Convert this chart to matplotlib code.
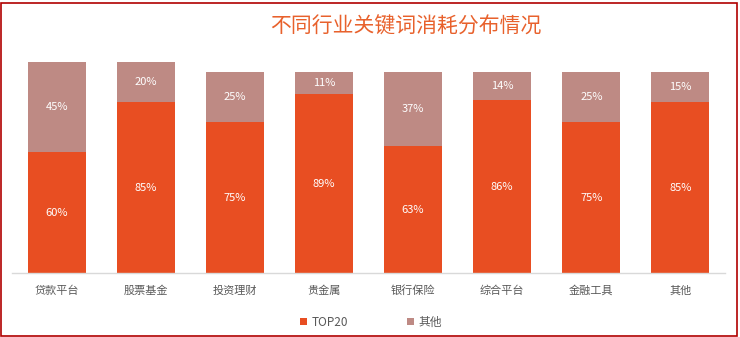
import matplotlib
matplotlib.use("Agg")
import matplotlib.pyplot as plt
from matplotlib.patches import Rectangle
import numpy as np

plt.rcParams['font.family'] = ['Noto Sans CJK SC', 'DejaVu Sans']

# 各行业关键词消耗占比 (%)
categories = ["贷款平台", "股票基金", "投资理财", "贵金属", "银行保险", "综合平台", "金融工具", "其他"]
top20 = [60, 85, 75, 89, 63, 86, 75, 85]
others = [45, 20, 25, 11, 37, 14, 25, 15]
series_names = ["TOP20", "其他"]

c_top = "#E84E22"
c_other = "#BE8A84"

fig = plt.figure(figsize=(7.40, 3.37), dpi=100)
ax = fig.add_axes([12 / 740, 64 / 337, 713 / 740, 211 / 337])

x = np.arange(len(categories))
w = 0.65
b1 = ax.bar(x, top20, w, color=c_top, label=series_names[0])
b2 = ax.bar(x, others, w, bottom=top20, color=c_other, label=series_names[1])

for i in range(len(categories)):
    ax.text(x[i], top20[i] / 2, f"{top20[i]}%", ha="center", va="center",
            color="white", fontsize=8)
    ax.text(x[i], top20[i] + others[i] / 2, f"{others[i]}%", ha="center",
            va="center", color="white", fontsize=8)

ax.set_xlim(-0.5, len(categories) - 0.5)
ax.set_ylim(0, 105)
ax.set_xticks(x)
ax.set_xticklabels(categories, fontsize=8, color="#595959")
ax.tick_params(axis="x", length=0, pad=9)
ax.set_yticks([])
for side in ["top", "left", "right"]:
    ax.spines[side].set_visible(False)
ax.spines["bottom"].set_color("#D9D9D9")
ax.spines["bottom"].set_linewidth(1)

fig.text(406 / 740, 1 - 27 / 337, "不同行业关键词消耗分布情况", ha="center",
         va="center", fontsize=15, color="#E8612C")

fig.legend(handles=[b1, b2], labels=series_names, loc="center",
           bbox_to_anchor=(371 / 740, 1 - 322 / 337), ncol=2, frameon=False,
           fontsize=8.5, handlelength=0.6, handleheight=0.6, handletextpad=0.4,
           columnspacing=5.0, labelcolor="#595959")

# 外边框
fig.patches.append(Rectangle((1 / 740, 1 / 337), 736 / 740, 333 / 337,
                             transform=fig.transFigure, fill=False,
                             edgecolor="#B00000", linewidth=1.2))

fig.savefig("out.png", dpi=100)
